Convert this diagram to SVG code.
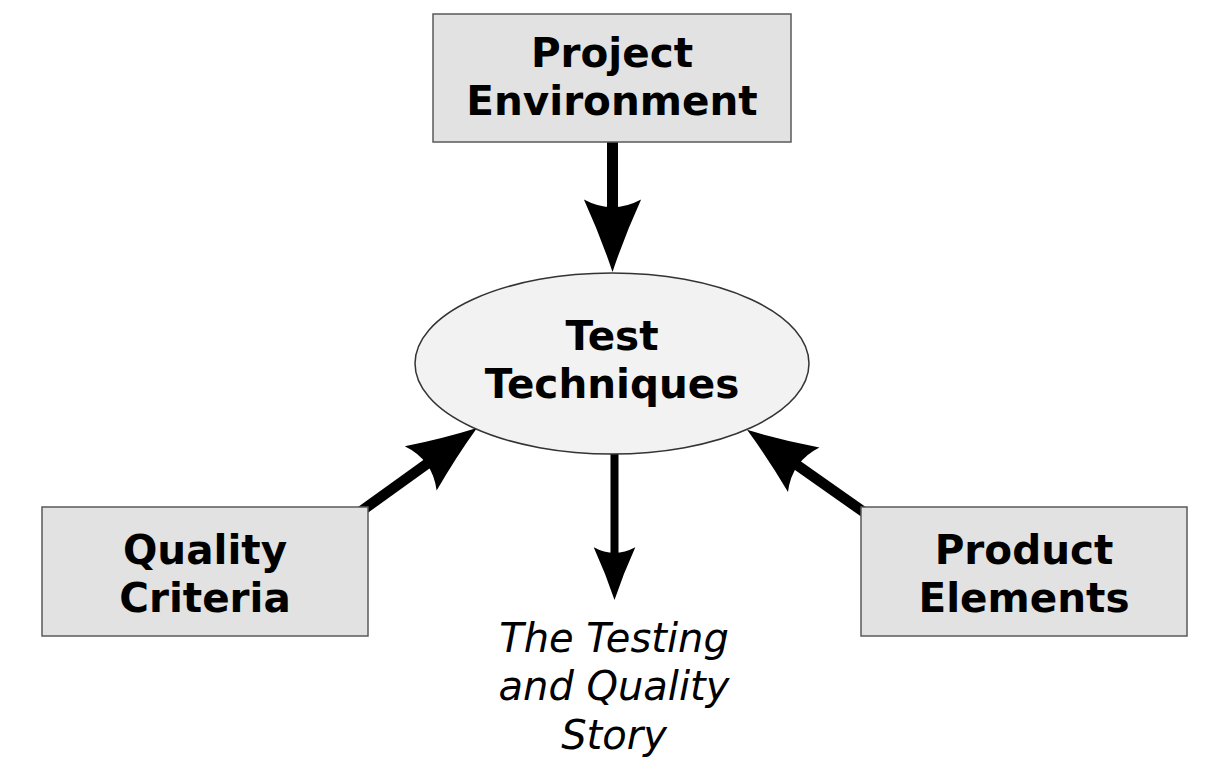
<svg xmlns="http://www.w3.org/2000/svg" width="1227" height="780" viewBox="0 0 1227 780">
<style>
.box{fill:#e1e2e1;stroke:#5a5a5a;stroke-width:1.5}
.ell{fill:#f2f2f2;stroke:#333;stroke-width:1.5}
.lbl{font-family:"DejaVu Sans",Verdana,sans-serif;font-weight:bold;font-size:40.5px;fill:#000;text-anchor:middle}
.story{font-family:"DejaVu Sans",Verdana,sans-serif;font-style:italic;font-size:40px;fill:#000;text-anchor:middle}
.conn{stroke:#000;fill:none;stroke-linecap:butt;marker-end:url(#ah)}
</style>
<defs>
<marker id="ah" viewBox="-7 -3 10 6" refX="-3" refY="0" markerWidth="10" markerHeight="6" markerUnits="strokeWidth" orient="auto" overflow="visible">
<path d="M0,0 Q-3.3,-1.1 -6.6,-2.6 Q-5.9,-1.3 -5.9,0 Q-5.9,1.3 -6.6,2.6 Q-3.3,1.1 0,0 Z" fill="#000"/>
</marker>
</defs>
<rect width="1227" height="780" fill="#fff"/>
<g id="connectors">
<line class="conn" x1="612.5" y1="142" x2="612.5" y2="239" stroke-width="11"/>
<line class="conn" x1="614.5" y1="454" x2="614.5" y2="576" stroke-width="8"/>
<line class="conn" x1="360" y1="512" x2="451.4" y2="446.3" stroke-width="10.5"/>
<line class="conn" x1="868" y1="515" x2="772.8" y2="448" stroke-width="10.5"/>
</g>
<g id="project-environment">
<rect class="box" x="433" y="14" width="358" height="128"/>
<text class="lbl" x="612" y="67">Project</text>
<text class="lbl" x="612" y="115">Environment</text>
</g>
<g id="test-techniques">
<ellipse class="ell" cx="612" cy="363.5" rx="197" ry="90.5"/>
<text class="lbl" x="612" y="350">Test</text>
<text class="lbl" x="612" y="398">Techniques</text>
</g>
<g id="quality-criteria">
<rect class="box" x="42" y="507" width="326" height="129"/>
<text class="lbl" x="205" y="564">Quality</text>
<text class="lbl" x="205" y="612">Criteria</text>
</g>
<g id="product-elements">
<rect class="box" x="861" y="507" width="326" height="129"/>
<text class="lbl" x="1024" y="564">Product</text>
<text class="lbl" x="1024" y="612">Elements</text>
</g>
<g id="story">
<text class="story" x="614" y="652">The Testing</text>
<text class="story" x="614" y="700">and Quality</text>
<text class="story" x="614" y="749">Story</text>
</g>
</svg>
